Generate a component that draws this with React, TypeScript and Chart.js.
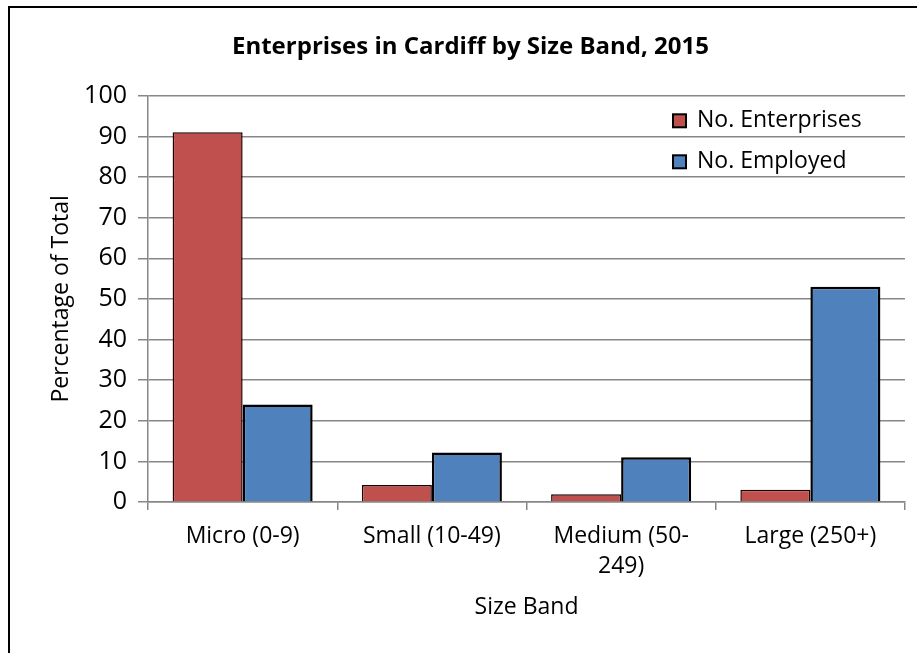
import React, { useEffect, useRef } from "react";
import { Chart, registerables } from "chart.js";

Chart.register(...registerables);

const FONT = "'Open Sans', sans-serif";

const chartTitle = "Enterprises in Cardiff by Size Band, 2015";
const xAxisTitle = "Size Band";
const yAxisTitle = "Percentage of Total";
const categories: (string | string[])[] = [
  "Micro (0-9)",
  "Small (10-49)",
  ["Medium (50-", "249)"],
  "Large (250+)",
];
const seriesNames = ["No. Enterprises", "No. Employed"];
const enterprises = [91.0, 4.2, 1.9, 3.0];
const employed = [24.0, 12.2, 11.0, 53.0];
const yMin = 0;
const yMax = 100;
const yStep = 10;

const RED = "#C0504D";
const BLUE = "#4F81BD";
const GRID = "#878787";

const insideLegend = {
  id: "insideLegend",
  afterDatasetsDraw(chart: any) {
    const { ctx, chartArea } = chart;
    const x0 = chartArea.right - 232;
    ctx.save();
    chart.data.datasets.forEach((ds: any, i: number) => {
      const cy = chartArea.top + 25 + i * 41;
      ctx.fillStyle = ds.backgroundColor;
      ctx.fillRect(x0, cy - 6.5, 13, 13);
      ctx.strokeStyle = "#000";
      ctx.lineWidth = 2;
      ctx.strokeRect(x0, cy - 6.5, 13, 13);
      ctx.fillStyle = "#000";
      ctx.font = `23px ${FONT}`;
      ctx.textBaseline = "middle";
      ctx.textAlign = "left";
      ctx.fillText(ds.label, x0 + 24, cy);
    });
    ctx.restore();
  },
};

const frame = {
  id: "frame",
  afterDraw(chart: any) {
    const { ctx } = chart;
    ctx.save();
    ctx.strokeStyle = "#000";
    ctx.lineWidth = 2;
    ctx.strokeRect(9, 7, 2000, 2000);
    ctx.restore();
  },
};

export default function App() {
  const ref = useRef<HTMLCanvasElement | null>(null);

  useEffect(() => {
    if (!ref.current) return;
    const chart = new Chart(ref.current, {
      type: "bar",
      data: {
        labels: categories,
        datasets: [
          {
            label: seriesNames[0],
            data: enterprises,
            backgroundColor: RED,
            borderColor: "#1a0000",
            borderWidth: 1.5,
            barPercentage: 1,
            categoryPercentage: 0.74,
          },
          {
            label: seriesNames[1],
            data: employed,
            backgroundColor: BLUE,
            borderColor: "#000",
            borderWidth: 2.5,
            barPercentage: 1,
            categoryPercentage: 0.74,
          },
        ],
      },
      options: {
        responsive: false,
        animation: false,
        devicePixelRatio: 1,
        layout: { padding: { left: 36, right: 12, top: 0, bottom: 0 } },
        plugins: {
          legend: { display: false },
          tooltip: { enabled: false },
          title: {
            display: true,
            text: chartTitle,
            color: "#000",
            font: { family: FONT, size: 24, weight: "bold", lineHeight: 1.2 },
            padding: { top: 33, bottom: 34 },
          },
        },
        scales: {
          x: {
            grid: {
              offset: true,
              drawOnChartArea: false,
              drawTicks: true,
              tickLength: 8,
              color: GRID,
              lineWidth: 1.5,
            },
            border: { display: true, color: GRID, width: 1.5 },
            ticks: {
              color: "#000",
              font: { family: FONT, size: 23, lineHeight: 1.3 },
              padding: 12,
              maxRotation: 0,
              autoSkip: false,
            },
            title: {
              display: true,
              text: xAxisTitle,
              color: "#000",
              font: { family: FONT, size: 23, lineHeight: 1.25 },
              padding: { top: 0, bottom: 31 },
            },
            afterFit(scale: any) {
              scale.height = 151;
            },
          },
          y: {
            min: yMin,
            max: yMax,
            grid: {
              color: GRID,
              lineWidth: 1.5,
              tickLength: 10,
            },
            border: { display: true, color: GRID, width: 1.5 },
            ticks: {
              stepSize: yStep,
              color: "#000",
              font: { family: FONT, size: 25 },
              padding: 11,
            },
            title: {
              display: true,
              text: yAxisTitle,
              color: "#000",
              font: { family: FONT, size: 23, lineHeight: 1.25 },
              padding: { top: 11, bottom: 0 },
            },
            afterFit(scale: any) {
              scale.width = 112;
            },
          },
        },
      },
      plugins: [insideLegend, frame],
    });
    return () => chart.destroy();
  }, []);

  return (
    <div style={{ position: "absolute", left: 0, top: 0, width: 917, height: 653, background: "#fff" }}>
      <canvas ref={ref} width={917} height={653} style={{ width: 917, height: 653 }} />
    </div>
  );
}
